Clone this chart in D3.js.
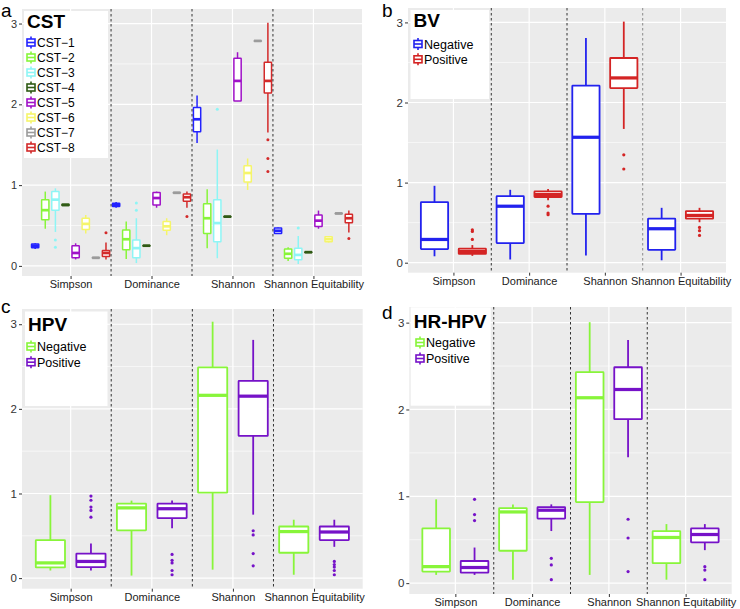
<!DOCTYPE html>
<html><head><meta charset="utf-8">
<script src="https://cdn.jsdelivr.net/npm/d3@7"></script>
<style>body{margin:0;background:#fff;} svg{display:block;font-family:"Liberation Sans",Arial,sans-serif;}</style>
</head><body><svg id="chart" width="740" height="609"></svg>
<script>
const metrics = ["Simpson","Dominance","Shannon","Shannon Equitability"];
const yTicks = [0,1,2,3];
const yMinor = [0.5,1.5,2.5];

// ---- Panel a : CST ----  each row: [lowerWhisker, q1, median, q3, upperWhisker]
const cstGroups = ["CST\u22121","CST\u22122","CST\u22123","CST\u22124","CST\u22125","CST\u22126","CST\u22127","CST\u22128"];
const cstColors = ["#2323ff","#88f53a","#8ef5f5","#2f5a14","#a012c8","#f5f56a","#9b9b9b","#d32a2a"];
const cstSimpson = [[0.21,0.225,0.25,0.27,0.28],[0.46,0.57,0.69,0.82,0.92],[0.42,0.69,0.82,0.92,0.96],[0.745,0.748,0.755,0.762,0.765],[0.08,0.10,0.16,0.25,0.28],[0.40,0.45,0.52,0.59,0.63],[0.095,0.097,0.10,0.103,0.105],[0.08,0.115,0.16,0.19,0.29]];
const cstDominance = [[0.72,0.735,0.755,0.775,0.79],[0.085,0.20,0.33,0.445,0.55],[0.035,0.10,0.22,0.32,0.59],[0.245,0.247,0.25,0.253,0.255],[0.72,0.755,0.84,0.91,0.92],[0.38,0.44,0.49,0.55,0.59],[0.90,0.902,0.905,0.908,0.91],[0.72,0.80,0.85,0.89,0.92]];
const cstShannon = [[1.52,1.66,1.815,1.96,2.11],[0.22,0.40,0.59,0.77,0.95],[0.095,0.30,0.53,0.82,1.44],[0.605,0.607,0.61,0.613,0.615],[2.04,2.04,2.29,2.57,2.645],[0.94,1.04,1.15,1.24,1.33],[2.78,2.782,2.785,2.788,2.79],[1.65,2.14,2.29,2.52,3.01]];
const cstEquitability = [[0.395,0.40,0.435,0.47,0.475],[0.06,0.095,0.15,0.21,0.23],[0.025,0.075,0.136,0.22,0.37],[0.165,0.167,0.17,0.173,0.175],[0.46,0.487,0.56,0.63,0.685],[0.29,0.30,0.33,0.36,0.37],[0.645,0.648,0.65,0.652,0.655],[0.415,0.535,0.59,0.64,0.685]];
// outliers: [metricIndex, groupIndex, value]
const cstOutliers = [[0,2,0.32],[0,2,0.23],[0,7,0.41],[1,2,0.69],[1,2,0.78],[1,7,0.61],[2,2,1.94],[2,7,1.56],[2,7,1.33],[2,7,1.17],[3,2,0.47],[3,7,0.34]];

// ---- Panel b : BV ----
const bvGroups = ["Negative","Positive"];
const bvColors = ["#2222ee","#d42424"];
const bvSimpson = [[0.08,0.17,0.29,0.755,0.96],[0.085,0.11,0.14,0.175,0.22]];
const bvDominance = [[0.04,0.245,0.705,0.83,0.91],[0.78,0.82,0.85,0.89,0.92]];
const bvShannon = [[0.09,0.61,1.566,2.21,2.805],[1.67,2.18,2.307,2.556,3.01]];
const bvEquitability = [[0.03,0.16,0.424,0.55,0.685],[0.505,0.55,0.59,0.645,0.685]];
const bvOutliers = [[0,1,0.41],[0,1,0.39],[0,1,0.29],[1,1,0.705],[1,1,0.62],[1,1,0.60],[2,1,1.347],[2,1,1.17],[3,1,0.44],[3,1,0.40],[3,1,0.34]];

// ---- Panel c : HPV ----
const hpvGroups = ["Negative","Positive"];
const hpvColors = ["#88f53a","#7612c8"];
const hpvSimpson = [[0.09,0.126,0.18,0.45,0.98],[0.09,0.13,0.197,0.29,0.41]];
const hpvDominance = [[0.03,0.565,0.83,0.88,0.916],[0.59,0.71,0.82,0.88,0.916]];
const hpvShannon = [[0.10,1.01,2.16,2.49,3.03],[0.75,1.68,2.15,2.33,2.815]];
const hpvEquitability = [[0.04,0.30,0.55,0.61,0.69],[0.37,0.45,0.545,0.61,0.69]];
const hpvOutliers = [[0,1,0.97],[0,1,0.92],[0,1,0.84],[0,1,0.80],[0,1,0.72],[1,1,0.28],[1,1,0.21],[1,1,0.18],[1,1,0.09],[1,1,0.04],[2,1,0.56],[2,1,0.51],[2,1,0.29],[2,1,0.145],[3,1,0.197],[3,1,0.16],[3,1,0.13],[3,1,0.09],[3,1,0.04]];

// ---- Panel d : HR-HPV ----
const hrGroups = ["Negative","Positive"];
const hrColors = ["#88f53a","#7612c8"];
const hrSimpson = [[0.095,0.133,0.19,0.63,0.965],[0.095,0.12,0.18,0.255,0.41]];
const hrDominance = [[0.04,0.373,0.82,0.865,0.907],[0.60,0.744,0.84,0.875,0.907]];
const hrShannon = [[0.095,0.934,2.135,2.43,3.005],[1.449,1.888,2.23,2.486,2.80]];
const hrEquitability = [[0.04,0.23,0.526,0.60,0.68],[0.38,0.47,0.56,0.63,0.68]];
const hrOutliers = [[0,1,0.965],[0,1,0.79],[0,1,0.72],[1,1,0.286],[1,1,0.21],[1,1,0.04],[2,1,0.736],[2,1,0.52],[2,1,0.133],[3,1,0.19],[3,1,0.15],[3,1,0.04]];

const svg = d3.select("#chart");

function drawPanel(o) {
  const g = svg.append("g");
  const x = d3.scalePoint().domain(metrics).range([o.left, o.right]).padding(0.6);
  const step = x.step();
  const y = d3.scaleLinear().domain([-0.125, 3.18]).range([o.bottom, o.top]);
  g.append("rect").attr("x", o.left).attr("y", o.top).attr("width", o.right - o.left).attr("height", o.bottom - o.top).attr("fill", "#ebebeb");
  g.selectAll(".ymin").data(yMinor).join("line").attr("x1", o.left).attr("x2", o.right)
    .attr("y1", d => y(d)).attr("y2", d => y(d)).attr("stroke", "#fff").attr("stroke-width", 0.6);
  g.selectAll(".ymaj").data(yTicks).join("line").attr("x1", o.left).attr("x2", o.right)
    .attr("y1", d => y(d)).attr("y2", d => y(d)).attr("stroke", "#fff").attr("stroke-width", 1.2);
  g.selectAll(".xmaj").data(metrics).join("line").attr("y1", o.top).attr("y2", o.bottom)
    .attr("x1", d => x(d)).attr("x2", d => x(d)).attr("stroke", "#fff").attr("stroke-width", 1.2);

  const n = o.groups.length;
  const bw = step * 0.72 / n;
  const sw = o.sw;
  const stats = [o.s0, o.s1, o.s2, o.s3];
  stats.forEach((rows, mi) => {
    rows.forEach((s, gi) => {
      const cx = x(metrics[mi]) + step * (gi - (n - 1) / 2) / n;
      const col = o.colors[gi];
      g.append("line").attr("x1", cx).attr("x2", cx).attr("y1", y(s[0])).attr("y2", y(s[4]))
        .attr("stroke", col).attr("stroke-width", sw);
      const h = Math.max(y(s[1]) - y(s[3]), 0.5);
      g.append("rect").attr("x", cx - bw / 2).attr("y", y(s[3])).attr("width", bw).attr("height", h)
        .attr("fill", "#fff").attr("stroke", col).attr("stroke-width", sw).attr("rx", 0.5);
      g.append("line").attr("x1", cx - bw / 2).attr("x2", cx + bw / 2).attr("y1", y(s[2])).attr("y2", y(s[2]))
        .attr("stroke", col).attr("stroke-width", sw * 1.8);
    });
  });
  g.selectAll(".out").data(o.outliers).join("circle")
    .attr("cx", d => x(metrics[d[0]]) + step * (d[1] - (n - 1) / 2) / n)
    .attr("cy", d => y(d[2])).attr("r", o.r).attr("fill", d => o.colors[d[1]]);

  const seps = metrics.slice(0, 3);
  g.selectAll(".sep").data(seps).join("line")
    .attr("x1", d => x(d) + step / 2).attr("x2", d => x(d) + step / 2)
    .attr("y1", o.top).attr("y2", o.bottom)
    .attr("stroke", (d, i) => (o.lightSep && i === 2) ? "#8a8a8a" : "#333")
    .attr("stroke-width", 1).attr("stroke-dasharray", "2.5,2.5");

  const ya = g.append("g").attr("transform", `translate(${o.left},0)`)
    .call(d3.axisLeft(y).tickValues(yTicks).tickSize(3).tickPadding(2).tickFormat(d3.format("d")));
  ya.select(".domain").remove();
  ya.selectAll(".tick line").attr("stroke", "#333");
  ya.selectAll("text").attr("font-size", o.fs).attr("fill", "#333").attr("font-family", "Liberation Sans, Arial, sans-serif");
  const xa = g.append("g").attr("transform", `translate(0,${o.bottom})`)
    .call(d3.axisBottom(x).tickSize(3).tickPadding(1.5));
  xa.select(".domain").remove();
  xa.selectAll(".tick line").attr("stroke", "#333");
  xa.selectAll("text").attr("font-size", o.xfs).attr("fill", "#222").attr("font-family", "Liberation Sans, Arial, sans-serif");

  const L = o.legend;
  g.append("rect").attr("x", L.x0).attr("y", L.y0).attr("width", L.x1 - L.x0).attr("height", L.y1 - L.y0).attr("fill", "#fff");
  g.append("text").attr("x", L.x0 + 3).attr("y", L.titleY).text(o.title)
    .attr("font-weight", "bold").attr("font-size", 19).attr("fill", "#000");
  o.groups.forEach((name, i) => {
    const cy = L.firstY + i * L.dy;
    const kx = L.keyX;
    const col = o.colors[i];
    g.append("line").attr("x1", kx).attr("x2", kx).attr("y1", cy - 6).attr("y2", cy + 6).attr("stroke", col).attr("stroke-width", 1.6);
    g.append("rect").attr("x", kx - 4).attr("y", cy - 3.5).attr("width", 8).attr("height", 7)
      .attr("fill", "#fff").attr("stroke", col).attr("stroke-width", 1.6);
    g.append("line").attr("x1", kx - 4).attr("x2", kx + 4).attr("y1", cy).attr("y2", cy).attr("stroke", col).attr("stroke-width", 1.6);
    g.append("text").attr("x", kx + 6).attr("y", cy).attr("dy", "0.36em").text(name)
      .attr("font-size", L.fs).attr("fill", "#000");
  });

  svg.append("text").attr("x", o.letterX).attr("y", o.letterY).text(o.letter)
    .attr("font-size", 19).attr("fill", "#000");
}

drawPanel({letter: "a", letterX: 1, letterY: 17, title: "CST",
  left: 22, right: 362, top: 9, bottom: 276, fs: 11, xfs: 11, sw: 1.5, r: 1.5,
  groups: cstGroups, colors: cstColors,
  s0: cstSimpson, s1: cstDominance, s2: cstShannon, s3: cstEquitability, outliers: cstOutliers,
  legend: {x0: 24, x1: 108, y0: 11, y1: 158, titleY: 28, firstY: 42.5, dy: 15, keyX: 31, fs: 12}});

drawPanel({letter: "b", letterX: 382, letterY: 17, title: "BV", lightSep: true,
  left: 408, right: 726, top: 8, bottom: 272.7, fs: 11.5, xfs: 11, sw: 1.8, r: 1.6,
  groups: bvGroups, colors: bvColors,
  s0: bvSimpson, s1: bvDominance, s2: bvShannon, s3: bvEquitability, outliers: bvOutliers,
  legend: {x0: 410.5, x1: 489, y0: 10, y1: 99, titleY: 26.5, firstY: 44, dy: 15.3, keyX: 418, fs: 12.5}});

drawPanel({letter: "c", letterX: 1, letterY: 313, title: "HPV",
  left: 22, right: 362.7, top: 309, bottom: 588.7, fs: 11.5, xfs: 11, sw: 1.8, r: 1.6,
  groups: hpvGroups, colors: hpvColors,
  s0: hpvSimpson, s1: hpvDominance, s2: hpvShannon, s3: hpvEquitability, outliers: hpvOutliers,
  legend: {x0: 25, x1: 107.5, y0: 311.5, y1: 406, titleY: 331, firstY: 346.5, dy: 15.7, keyX: 31, fs: 12.5}});

drawPanel({letter: "d", letterX: 382, letterY: 319, title: "HR-HPV",
  left: 409.3, right: 731.7, top: 307, bottom: 594, fs: 11.5, xfs: 11, sw: 1.8, r: 1.6,
  groups: hrGroups, colors: hrColors,
  s0: hrSimpson, s1: hrDominance, s2: hrShannon, s3: hrEquitability, outliers: hrOutliers,
  legend: {x0: 410.7, x1: 490.7, y0: 307.3, y1: 405.7, titleY: 328, firstY: 342.5, dy: 16, keyX: 420, fs: 12.5}});
</script></body></html>
